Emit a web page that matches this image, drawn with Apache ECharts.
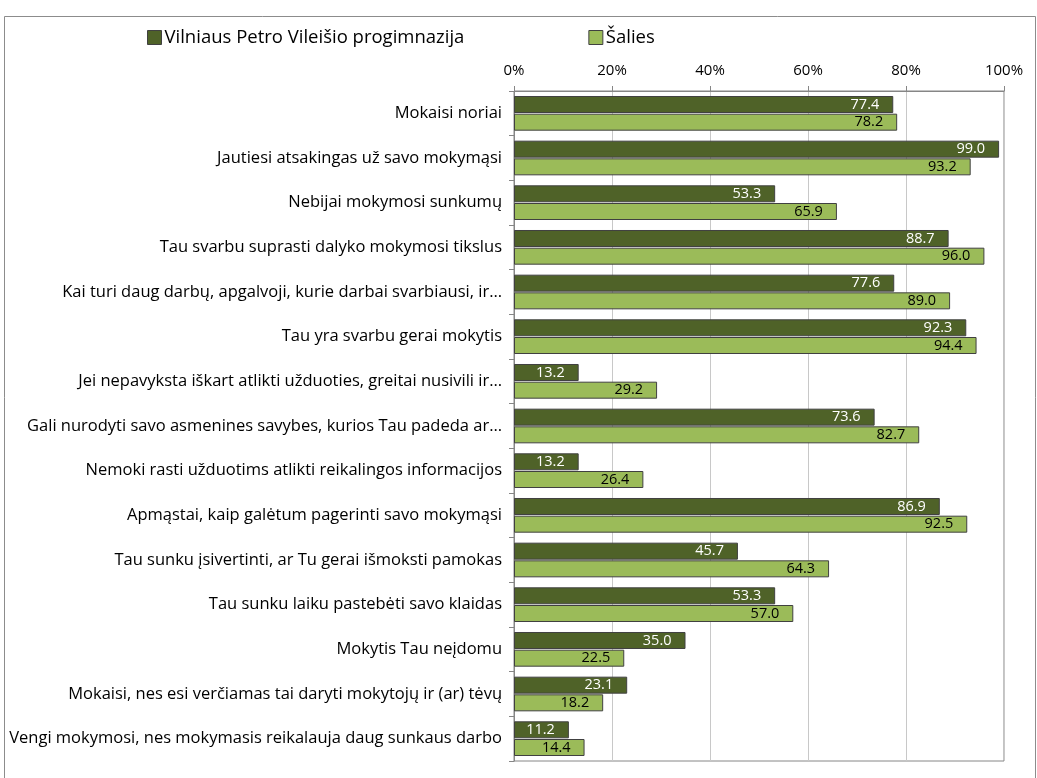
<!DOCTYPE html>
<html><head><meta charset="utf-8">
<script src="https://cdn.jsdelivr.net/npm/echarts@6/dist/echarts.min.js"></script>
<style>html,body{margin:0;padding:0;background:#fff}#c{width:1037px;height:778px}</style>
</head><body><div id="c"></div>
<script>
const categories = [
  "Mokaisi noriai",
  "Jautiesi atsakingas už savo mokymąsi",
  "Nebijai mokymosi sunkumų",
  "Tau svarbu suprasti dalyko mokymosi tikslus",
  "Kai turi daug darbų, apgalvoji, kurie darbai svarbiausi, ir…",
  "Tau yra svarbu gerai mokytis",
  "Jei nepavyksta iškart atlikti užduoties, greitai nusivili ir…",
  "Gali nurodyti savo asmenines savybes, kurios Tau padeda ar…",
  "Nemoki rasti užduotims atlikti reikalingos informacijos",
  "Apmąstai, kaip galėtum pagerinti savo mokymąsi",
  "Tau sunku įsivertinti, ar Tu gerai išmoksti pamokas",
  "Tau sunku laiku pastebėti savo klaidas",
  "Mokytis Tau neįdomu",
  "Mokaisi, nes esi verčiamas tai daryti mokytojų ir (ar) tėvų",
  "Vengi mokymosi, nes mokymasis reikalauja daug sunkaus darbo"
];
const seriesNames = ["Vilniaus Petro Vileišio progimnazija", "Šalies"];
const schoolValues = [77.4, 99.0, 53.3, 88.7, 77.6, 92.3, 13.2, 73.6, 13.2, 86.9, 45.7, 53.3, 35.0, 23.1, 11.2];
const nationalValues = [78.2, 93.2, 65.9, 96.0, 89.0, 94.4, 29.2, 82.7, 26.4, 92.5, 64.3, 57.0, 22.5, 18.2, 14.4];

const FONT = "Open Sans";
const chart = echarts.init(document.getElementById('c'), null, {renderer: 'canvas'});
chart.setOption({
  animation: false,
  backgroundColor: '#fff',
  textStyle: {fontFamily: FONT},
  graphic: [{
    type: 'rect', shape: {x: 4.5, y: 16.5, width: 1031, height: 780},
    style: {fill: 'none', stroke: '#8c8c8c', lineWidth: 1}, silent: true, z: -10
  }],
  legend: {
    top: 23, left: 142, itemWidth: 14, itemHeight: 14, itemGap: 124,
    icon: 'rect',
    textStyle: {fontSize: 18.5, color: '#000', fontFamily: FONT, padding: [0, 0, 0, -2]},
    itemStyle: {borderColor: '#404040', borderWidth: 1},
    data: seriesNames
  },
  grid: {left: 514, right: 33, top: 91, bottom: 17, containLabel: false,
         show: true, borderColor: '#868686', borderWidth: 1},
  xAxis: {
    type: 'value', position: 'top', min: 0, max: 100, interval: 20,
    axisLabel: {formatter: '{value}%', fontSize: 15, color: '#000', margin: 13, fontFamily: FONT},
    axisLine: {show: true, lineStyle: {color: '#868686'}},
    axisTick: {show: true, length: 5, lineStyle: {color: '#868686'}},
    splitLine: {show: true, lineStyle: {color: '#c8c8c8'}}
  },
  yAxis: {
    type: 'category', inverse: true, data: categories,
    axisLine: {show: true, lineStyle: {color: '#868686'}},
    axisTick: {show: true, length: 5, lineStyle: {color: '#868686'}},
    axisLabel: {fontSize: 16.5, color: '#000', margin: 12, fontFamily: FONT}
  },
  series: [
    {
      name: seriesNames[0], type: 'bar', data: schoolValues,
      barWidth: 17, barGap: '4%',
      itemStyle: {color: '#4f6228', borderColor: '#404040', borderWidth: 1},
      label: {show: true, position: 'insideRight', distance: 14, color: '#fff', fontSize: 14.5, fontFamily: FONT,
              formatter: p => p.value.toFixed(1)}
    },
    {
      name: seriesNames[1], type: 'bar', data: nationalValues,
      barWidth: 17, barGap: '4%',
      itemStyle: {color: '#9bbb59', borderColor: '#404040', borderWidth: 1},
      label: {show: true, position: 'insideRight', distance: 14, color: '#000', fontSize: 14.5, fontFamily: FONT,
              formatter: p => p.value.toFixed(1)}
    }
  ]
});
</script></body></html>
